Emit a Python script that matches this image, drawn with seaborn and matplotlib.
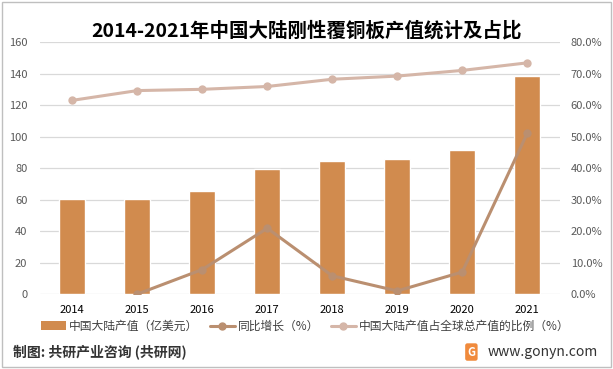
import numpy as np
import pandas as pd
import matplotlib
matplotlib.use('Agg')
import matplotlib.pyplot as plt
from matplotlib.patches import Patch, Rectangle
from matplotlib.lines import Line2D
from matplotlib.ticker import PercentFormatter
import seaborn as sns

# ============================================================
# Data
# ============================================================
years = ['2014', '2015', '2016', '2017', '2018', '2019', '2020', '2021']
output_value = [60.5, 60.5, 65.4, 79.4, 84.4, 85.7, 91.4, 138.4]      # 亿美元
yoy_growth = [np.nan, 0.0, 7.8, 20.9, 5.8, 1.0, 7.0, 51.0]            # %
global_share = [61.5, 64.6, 65.0, 65.9, 68.2, 69.2, 71.0, 73.4]       # %

bar_label = '中国大陆产值（亿美元）'
growth_label = '同比增长（%）'
share_label = '中国大陆产值占全球总产值的比例（%）'

BAR_C = '#D18B4E'
GROWTH_C = '#BA8F70'
SHARE_C = '#D5B6A8'

sns.set_theme(style='white')
plt.rcParams['font.family'] = ['Noto Sans CJK SC', 'DejaVu Sans']

df = pd.DataFrame({'year': years, 'value': output_value,
                   'growth': yoy_growth, 'share': global_share})
df['pos'] = np.arange(len(df))

fig = plt.figure(figsize=(6.13, 3.69), dpi=100)
ax = fig.add_axes([0.065, 0.203, 0.848, 0.683])

sns.barplot(data=df, x='year', y='value', color=BAR_C, width=0.4,
            saturation=1, ax=ax, zorder=2)
ax.set_xlim(-0.5, len(years) - 0.5)
ax.set_ylim(0, 160)
ax.set_yticks(range(0, 161, 20))
ax.yaxis.grid(True, color='#D9D9D9', linewidth=0.9, zorder=0)
ax.set_axisbelow(True)
ax.set_xlabel('')
ax.set_ylabel('')
for s in ax.spines.values():
    s.set_visible(False)
ax.tick_params(axis='y', labelsize=8, colors='#595959', length=0, pad=9)
ax.tick_params(axis='x', labelsize=8, colors='#000000', length=0, pad=8)

ax2 = ax.twinx()
sns.lineplot(data=df, x='pos', y='share', color=SHARE_C, linewidth=2.2,
             marker='o', markersize=6, markeredgewidth=0, ax=ax2)
sns.lineplot(data=df.dropna(), x='pos', y='growth', color=GROWTH_C, linewidth=2.2,
             marker='o', markersize=6, markeredgewidth=0, ax=ax2)
ax2.set_ylim(0, 80)
ax2.set_yticks(range(0, 81, 10))
ax2.yaxis.set_major_formatter(PercentFormatter(decimals=1))
ax2.set_xlabel('')
ax2.set_ylabel('')
for s in ax2.spines.values():
    s.set_visible(False)
ax2.tick_params(axis='y', labelsize=8, colors='#595959', length=0, pad=8)

# title
fig.text(0.5, 0.916, '2014-2021年中国大陆刚性覆铜板产值统计及占比',
         ha='center', va='center', fontsize=14, fontweight='bold', color='#000000')

# legend
handles = [
    Patch(facecolor=BAR_C, edgecolor='none', label=bar_label),
    Line2D([0], [0], color=GROWTH_C, lw=2.2, marker='o', markersize=5, label=growth_label),
    Line2D([0], [0], color=SHARE_C, lw=2.2, marker='o', markersize=5, label=share_label),
]
fig.legend(handles=handles, loc='center', bbox_to_anchor=(0.498, 0.116), ncol=3,
           frameon=False, fontsize=8.5, handlelength=2.1, columnspacing=1.0,
           handletextpad=0.25, labelcolor='#404040')

# footer
fig.text(0.021, 0.046, '制图: 共研产业咨询 (共研网)', ha='left', va='center',
         fontsize=10, fontweight='bold', color='#333333')
fig.text(0.769, 0.046, 'G', ha='center', va='center', fontsize=8, fontweight='bold',
         color='white', bbox=dict(boxstyle='round,pad=0.2', fc='#F08A3C', ec='none'))
fig.text(0.796, 0.046, 'www.gonyn.com', ha='left', va='center',
         fontsize=10, color='#333333')

# outer border
fig.patches.append(Rectangle((0.003, 0.005), 0.994, 0.99, transform=fig.transFigure,
                             fill=False, edgecolor='#BFBFBF', linewidth=1))

fig.savefig('out.png', dpi=100)
plt.close(fig)
